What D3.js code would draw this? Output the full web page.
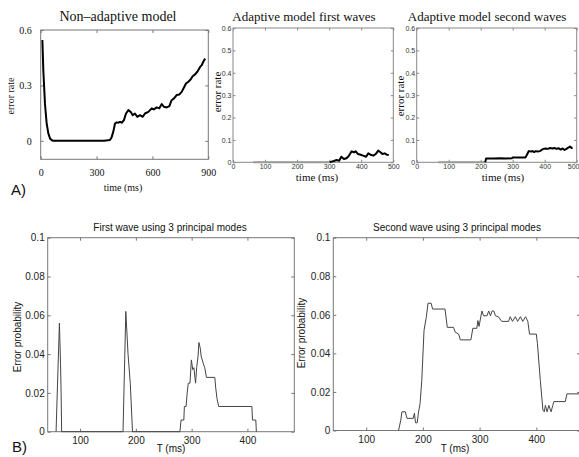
<!DOCTYPE html>
<html>
<head>
<meta charset="utf-8">
<script src="https://cdn.jsdelivr.net/npm/d3@7"></script>
<style>
body { margin: 0; background: #fff; }
svg { display: block; }
</style>
</head>
<body>
<div id="chart"></div>
<script>
'use strict';

// A) error rate, non adaptive model
var nonAdaptiveTime = [9, 14, 23, 32, 41, 50, 60, 68, 120, 200, 280, 340, 372, 381, 390, 399, 408, 417, 426, 435, 447, 458, 471, 483, 494, 506, 519, 533, 548, 560, 578, 596, 608, 623, 637, 650, 662, 677, 691, 703, 716, 730, 745, 757, 770, 780, 793, 806, 816, 829, 841, 856, 865, 873, 883];
var nonAdaptiveRate = [0.546, 0.383, 0.2, 0.094, 0.04, 0.013, 0.003, 0, 0, 0, 0, 0, 0.004, 0.02, 0.05, 0.094, 0.1, 0.098, 0.103, 0.098, 0.112, 0.148, 0.166, 0.157, 0.139, 0.148, 0.13, 0.139, 0.13, 0.148, 0.157, 0.176, 0.17, 0.181, 0.176, 0.199, 0.184, 0.181, 0.188, 0.22, 0.23, 0.248, 0.251, 0.265, 0.29, 0.31, 0.32, 0.333, 0.35, 0.36, 0.374, 0.4, 0.41, 0.428, 0.445];

// A) adaptive model, first waves
var firstWaveTime = [63, 302, 307, 315, 323, 331, 338, 346, 354, 362, 370, 377, 383, 390, 398, 406, 415, 422, 429, 438, 445, 453, 460, 466, 473, 480, 486];
var firstWaveRate = [0, 0, 0.003, 0.006, 0.01, 0.007, 0.025, 0.015, 0.018, 0.03, 0.049, 0.045, 0.049, 0.037, 0.034, 0.03, 0.025, 0.04, 0.034, 0.03, 0.037, 0.052, 0.045, 0.037, 0.04, 0.034, 0.032];

// A) adaptive model, second waves
var secondWaveTime = [68, 214, 217, 240, 260, 280, 298, 300, 320, 340, 345, 350, 357, 362, 367, 372, 378, 385, 390, 396, 403, 410, 417, 424, 430, 437, 443, 450, 456, 462, 468, 474, 479, 484, 487];
var secondWaveRate = [0, 0, 0.017, 0.017, 0.018, 0.017, 0.018, 0.022, 0.022, 0.022, 0.035, 0.05, 0.048, 0.05, 0.046, 0.05, 0.048, 0.05, 0.055, 0.06, 0.062, 0.06, 0.064, 0.062, 0.064, 0.06, 0.063, 0.057, 0.062, 0.055, 0.06, 0.066, 0.07, 0.064, 0.066];

// B) first wave using 3 principal modes
var modesFirstTime = [57, 63, 65, 66, 67, 177, 182, 186, 190, 194, 279, 281, 286, 287, 290, 292, 294, 297, 299.5, 302, 304, 307, 309, 311.5, 313, 315.5, 317, 319, 321, 323.5, 326.5, 341.5, 343, 345.5, 348.5, 408, 409, 415, 416];
var modesFirstProb = [0, 0.056, 0.035, 0.021, 0, 0, 0.062, 0.04, 0.025, 0, 0, 0.006, 0.006, 0.013, 0.013, 0.02, 0.025, 0.025, 0.037, 0.032, 0.033, 0.025, 0.033, 0.039, 0.046, 0.043, 0.039, 0.037, 0.035, 0.033, 0.028, 0.028, 0.023, 0.017, 0.013, 0.013, 0.006, 0.006, 0];

// B) second wave using 3 principal modes
var modesSecondTime = [157, 161, 163, 169, 172, 183, 185, 187, 190, 192, 195, 198, 202, 206, 209, 214.6, 217, 239, 243, 254, 257, 263, 266, 284.6, 288, 295, 297, 299, 304, 307, 313, 316, 319, 322, 325, 328, 333, 339, 351, 354, 358, 363, 367, 372, 376, 381, 385, 388, 400, 402, 407, 411.6, 414, 416, 419, 422, 426, 429, 431, 451, 454, 477];
var modesSecondProb = [0, 0.0054, 0.0097, 0.0097, 0.0063, 0.0063, 0.009, 0.004, 0.004, 0.009, 0.014, 0.026, 0.052, 0.0587, 0.066, 0.066, 0.063, 0.063, 0.0535, 0.0535, 0.051, 0.05, 0.047, 0.047, 0.053, 0.053, 0.057, 0.054, 0.062, 0.0595, 0.0595, 0.062, 0.0595, 0.062, 0.062, 0.0595, 0.059, 0.0566, 0.0566, 0.059, 0.0566, 0.059, 0.0566, 0.059, 0.0566, 0.059, 0.0566, 0.05, 0.05, 0.045, 0.026, 0.0106, 0.0097, 0.013, 0.0097, 0.013, 0.0097, 0.013, 0.015, 0.015, 0.019, 0.019];

// tick values
var nonAdaptiveXTicks = [0, 300, 600, 900];
var nonAdaptiveYTicks = [0, 0.3, 0.6];
var adaptiveXTicks = [0, 100, 200, 300, 400, 500];
var adaptiveYTicks = [0, 0.1, 0.2, 0.3, 0.4, 0.5, 0.6];
var modesXTicks = [100, 200, 300, 400];
var modesYTicks = [0, 0.02, 0.04, 0.06, 0.08, 0.1];

var serif = '"Liberation Serif", "DejaVu Serif", serif';
var sans = '"Liberation Sans", Arial, sans-serif';

var svg = d3.select('#chart').append('svg').attr('width', 579).attr('height', 457);

function drawPanel(p) {
  var x = d3.scaleLinear().domain(p.xDomain).range([p.left, p.right]);
  var y = d3.scaleLinear().domain(p.yDomain).range([p.bottom, p.top]);
  var g = svg.append('g');

  g.append('rect').attr('x', p.left).attr('y', p.top).attr('width', p.right - p.left).attr('height', p.bottom - p.top).attr('fill', 'none').attr('stroke', p.frame).attr('stroke-width', 1);

  var xb = g.append('g').attr('transform', 'translate(0,' + p.bottom + ')').call(d3.axisBottom(x).tickValues(p.xTicks).tickSizeInner(-p.tick).tickSizeOuter(0).tickPadding(p.xPad).tickFormat(p.xFormat));
  var xt = g.append('g').attr('transform', 'translate(0,' + p.top + ')').call(d3.axisTop(x).tickValues(p.xTicks).tickSizeInner(-p.tick).tickSizeOuter(0).tickFormat(''));
  var yl = g.append('g').attr('transform', 'translate(' + p.left + ',0)').call(d3.axisLeft(y).tickValues(p.yTicks).tickSizeInner(-p.tick).tickSizeOuter(0).tickPadding(p.yPad).tickFormat(p.yFormat));
  var yr = g.append('g').attr('transform', 'translate(' + p.right + ',0)').call(d3.axisRight(y).tickValues(p.yTicks).tickSizeInner(-p.tick).tickSizeOuter(0).tickFormat(''));

  [xb, xt, yl, yr].forEach(function (a) {
    a.attr('font-family', null);
    a.select('.domain').remove();
    a.selectAll('.tick line').attr('stroke', p.frame);
    a.selectAll('text').style('font-family', p.tickFont).attr('font-size', p.tickSize).attr('fill', p.tickColor);
  });
  if (p.lastLabelEnd) {
    // the last label sits on the picture's right edge
    xb.selectAll('.tick text').filter(function (d) { return d === p.xTicks[p.xTicks.length - 1]; }).attr('text-anchor', 'end').attr('x', 579 - p.right);
  }

  var line = d3.line().x(function (d) { return x(d[0]); }).y(function (d) { return y(d[1]); });
  var pts = p.t.map(function (t, i) { return [t, p.v[i]]; });
  var lead = 0;
  if (p.leadColor) {
    while (lead < pts.length - 1 && pts[lead + 1][1] === 0) lead++;
    g.append('path').attr('d', line(pts.slice(0, lead + 1))).attr('fill', 'none').attr('stroke', p.leadColor).attr('stroke-width', p.lineWidth);
  }
  g.append('path').attr('d', line(pts.slice(lead))).attr('fill', 'none').attr('stroke', p.lineColor).attr('stroke-width', p.lineWidth).attr('stroke-linejoin', 'round');

  g.append('text').attr('x', p.titleX).attr('y', p.titleY).attr('text-anchor', 'middle').style('font-family', p.titleFont).attr('font-size', p.titleSize).attr('fill', '#111').text(p.title);
  g.append('text').attr('x', p.xLabelX).attr('y', p.xLabelY).attr('text-anchor', 'middle').style('font-family', p.labelFont).attr('font-size', p.labelSize).attr('fill', '#111').text(p.xLabel);
  g.append('text').attr('transform', 'translate(' + p.yLabelX + ',' + p.yLabelY + ') rotate(-90)').attr('text-anchor', 'middle').style('font-family', p.labelFont).attr('font-size', p.labelSize).attr('fill', '#111').text(p.yLabel);
  return g;
}

// Non-adaptive model
drawPanel({
  left: 40.7, right: 208.3, top: 30, bottom: 159.3,
  xDomain: [0, 900], yDomain: [-0.1, 0.6],
  xTicks: nonAdaptiveXTicks, yTicks: nonAdaptiveYTicks,
  xFormat: d3.format('d'), yFormat: function (d) { return d === 0 ? '0' : d3.format('.1f')(d); },
  tick: 3, xPad: 10, yPad: 9, frame: '#777',
  tickFont: serif, tickSize: 10, tickColor: '#111',
  t: nonAdaptiveTime, v: nonAdaptiveRate, lineColor: '#000', lineWidth: 2,
  title: 'Non\u2013adaptive model', titleX: 118, titleY: 21, titleFont: serif, titleSize: 14,
  xLabel: 'time (ms)', xLabelX: 123, xLabelY: 191, yLabel: 'error rate', yLabelX: 14, yLabelY: 96,
  labelFont: serif, labelSize: 10
});

// Adaptive model first waves
drawPanel({
  left: 233, right: 393.3, top: 28, bottom: 162.3,
  xDomain: [0, 500], yDomain: [0, 0.6],
  xTicks: adaptiveXTicks, yTicks: adaptiveYTicks,
  xFormat: d3.format('d'), yFormat: function (d) { return d === 0 ? '0' : d3.format('.1f')(d); },
  tick: 2.5, xPad: 2, yPad: 1.5, frame: '#888',
  tickFont: sans, tickSize: 7, tickColor: '#333',
  t: firstWaveTime, v: firstWaveRate, lineColor: '#000', lineWidth: 2, leadColor: '#999',
  title: 'Adaptive model first waves', titleX: 304, titleY: 21, titleFont: serif, titleSize: 13,
  xLabel: 'time (ms)', xLabelX: 317, xLabelY: 181, yLabel: 'error rate', yLabelX: 221, yLabelY: 92,
  labelFont: serif, labelSize: 11
});

// Adaptive model second waves
drawPanel({
  left: 416.7, right: 576.7, top: 28, bottom: 162.3,
  xDomain: [0, 500], yDomain: [0, 0.6],
  xTicks: adaptiveXTicks, yTicks: adaptiveYTicks,
  xFormat: d3.format('d'), yFormat: function (d) { return d === 0 ? '0' : d3.format('.1f')(d); },
  tick: 2.5, xPad: 2, yPad: 1.5, frame: '#888',
  tickFont: sans, tickSize: 7, tickColor: '#333', lastLabelEnd: true,
  t: secondWaveTime, v: secondWaveRate, lineColor: '#000', lineWidth: 2, leadColor: '#999',
  title: 'Adaptive model second waves', titleX: 487, titleY: 21, titleFont: serif, titleSize: 13,
  xLabel: 'time (ms)', xLabelX: 503, xLabelY: 181, yLabel: 'error rate', yLabelX: 404, yLabelY: 96,
  labelFont: serif, labelSize: 11
});

// First wave using 3 principal modes
drawPanel({
  left: 47.7, right: 294.3, top: 237.7, bottom: 431.7,
  xDomain: [42, 484], yDomain: [0, 0.1],
  xTicks: modesXTicks, yTicks: modesYTicks,
  xFormat: d3.format('d'), yFormat: function (d) { return d === 0 ? '0' : String(+d.toFixed(2)); },
  tick: 3, xPad: 5, yPad: 3, frame: '#777',
  tickFont: sans, tickSize: 10, tickColor: '#222',
  t: modesFirstTime, v: modesFirstProb, lineColor: '#444', lineWidth: 1,
  title: 'First wave using 3 principal modes', titleX: 170, titleY: 231, titleFont: sans, titleSize: 10,
  xLabel: 'T (ms)', xLabelX: 171, xLabelY: 452, yLabel: 'Error probability', yLabelX: 21, yLabelY: 337,
  labelFont: sans, labelSize: 10
});

// Second wave using 3 principal modes
drawPanel({
  left: 333.3, right: 580, top: 237.7, bottom: 430.5,
  xDomain: [42, 477], yDomain: [0, 0.1],
  xTicks: modesXTicks, yTicks: modesYTicks,
  xFormat: d3.format('d'), yFormat: function (d) { return d === 0 ? '0' : String(+d.toFixed(2)); },
  tick: 3, xPad: 5, yPad: 3, frame: '#777',
  tickFont: sans, tickSize: 10, tickColor: '#222',
  t: modesSecondTime, v: modesSecondProb, lineColor: '#444', lineWidth: 1,
  title: 'Second wave using 3 principal modes', titleX: 457, titleY: 231, titleFont: sans, titleSize: 10,
  xLabel: 'T (ms)', xLabelX: 455, xLabelY: 452, yLabel: 'Error probability', yLabelX: 305, yLabelY: 333,
  labelFont: sans, labelSize: 10
});

// panel letters
svg.append('text').attr('x', 11).attr('y', 195).style('font-family', sans).attr('font-size', 15).attr('fill', '#111').text('A)');
svg.append('text').attr('x', 12).attr('y', 452).style('font-family', sans).attr('font-size', 15).attr('fill', '#111').text('B)');
</script>
</body>
</html>
